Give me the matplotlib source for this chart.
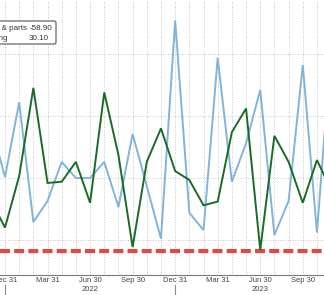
import numpy as np
import matplotlib
matplotlib.use("Agg")
import matplotlib.pyplot as plt
from matplotlib.patches import FancyBboxPatch

plt.rcParams['font.family'] = ['Liberation Sans', 'DejaVu Sans']

# ---- data (monthly, Nov 2021 .. Nov 2023) ----
months = ["2021-11", "2021-12", "2022-01", "2022-02", "2022-03", "2022-04", "2022-05",
          "2022-06", "2022-07", "2022-08", "2022-09", "2022-10", "2022-11", "2022-12",
          "2023-01", "2023-02", "2023-03", "2023-04", "2023-05", "2023-06", "2023-07",
          "2023-08", "2023-09", "2023-10", "2023-11"]
aircraft = [43.5, 0.8, 61.0, -35.5, -18.5, 13.0, 0.0, 0.0, 13.0, -23.4, 35.5, -6.5, -49.0,
            127.0, -28.0, -42.0, 97.0, -3.0, 28.0, 71.0, -46.0, -18.5, 91.0, -44.0, 105.6]
manufacturing = [-17.7, -40.0, 1.6, 72.6, -4.0, -3.0, 13.0, -20.0, 69.0, 18.5, -55.6, 13.0,
                 40.0, 5.6, -1.6, -22.0, -19.0, 37.0, 56.0, -58.0, 34.0, 13.0, -20.0, 14.5, -9.7]
ref_level = -59.0
tick_months = ["2021-12", "2022-03", "2022-06", "2022-09", "2022-12", "2023-03", "2023-06", "2023-09"]
tick_labels = ["Dec 31", "Mar 31", "Jun 30", "Sep 30", "Dec 31", "Mar 31", "Jun 30", "Sep 30"]
year_months = ["2022-06", "2023-06"]
year_labels = ["2022", "2023"]
year_sep_months = ["2021-12", "2022-12"]
legend_names = ["Aircraft & parts", "Manufacturing"]
legend_values = ["-58.90", "30.10"]

W, H = 324, 295
fig = plt.figure(figsize=(W / 100, H / 100), dpi=100)
ax = fig.add_axes([0, 20 / H, 1, 275 / H])

x = np.arange(len(months))
idx = {m: i for i, m in enumerate(months)}

ax.set_xlim(0.6474, 23.497)
ax.set_ylim(-78.2, 143.5)

# grid
for i in x:
    ax.axvline(i, color="#b4b4b4", lw=0.6, ls=(0, (1, 2)), zorder=0)
for v in [-50, 0, 50, 100]:
    ax.axhline(v, color="#b4b4b4", lw=0.6, ls=(0, (1, 2)), zorder=0)

# reference dashed red line
ax.axhline(ref_level, color="#dd4a48", lw=3.0, ls=(0, (2.4, 1.0)),
           solid_capstyle="butt", dash_capstyle="butt", zorder=2)

ax.plot(x, aircraft, color="#82b4d8", lw=1.4, zorder=3, solid_joinstyle="miter")
ax.plot(x, manufacturing, color="#1b6b27", lw=1.4, zorder=4, solid_joinstyle="miter")

for s in ["left", "right", "top"]:
    ax.spines[s].set_visible(False)
ax.spines["bottom"].set_color("#7a7a7a")
ax.spines["bottom"].set_linewidth(0.8)

ax.set_yticks([])
ax.set_xticks([idx[m] for m in tick_months])
ax.set_xticklabels(tick_labels, fontsize=5.5, color="#444444")
ax.tick_params(axis="x", length=0, pad=1.5)

# year labels and separators
for m, lab in zip(year_months, year_labels):
    ax.text(idx[m], -0.051, lab, transform=ax.get_xaxis_transform(), ha="center", va="center",
            fontsize=5.5, color="#444444", clip_on=False)
for m in year_sep_months:
    ax.plot([idx[m], idx[m]], [-0.036, -0.075], transform=ax.get_xaxis_transform(),
            color="#8a8a8a", lw=0.8, clip_on=False)

# legend box (cropped at left edge like the reference)
def fx(px):
    return px / W

def fy(py):
    return 1 - py / H

box = FancyBboxPatch((fx(-40), fy(44)), fx(96), fy(21) - fy(44), transform=fig.transFigure,
                     boxstyle="round,pad=0,rounding_size=0.006", facecolor="white",
                     edgecolor="#555555", lw=0.8, zorder=10)
fig.patches.append(box)
fig.text(fx(27), fy(29), legend_names[0], ha="right", va="center", fontsize=5.8,
         color="#333333", zorder=11)
fig.text(fx(8), fy(38), legend_names[1], ha="right", va="center", fontsize=5.8,
         color="#333333", zorder=11)
fig.text(fx(52), fy(29), legend_values[0], ha="right", va="center", fontsize=5.8,
         color="#333333", zorder=11)
fig.text(fx(49), fy(38), legend_values[1], ha="right", va="center", fontsize=5.8,
         color="#333333", zorder=11)

fig.savefig("out.png", dpi=100)
